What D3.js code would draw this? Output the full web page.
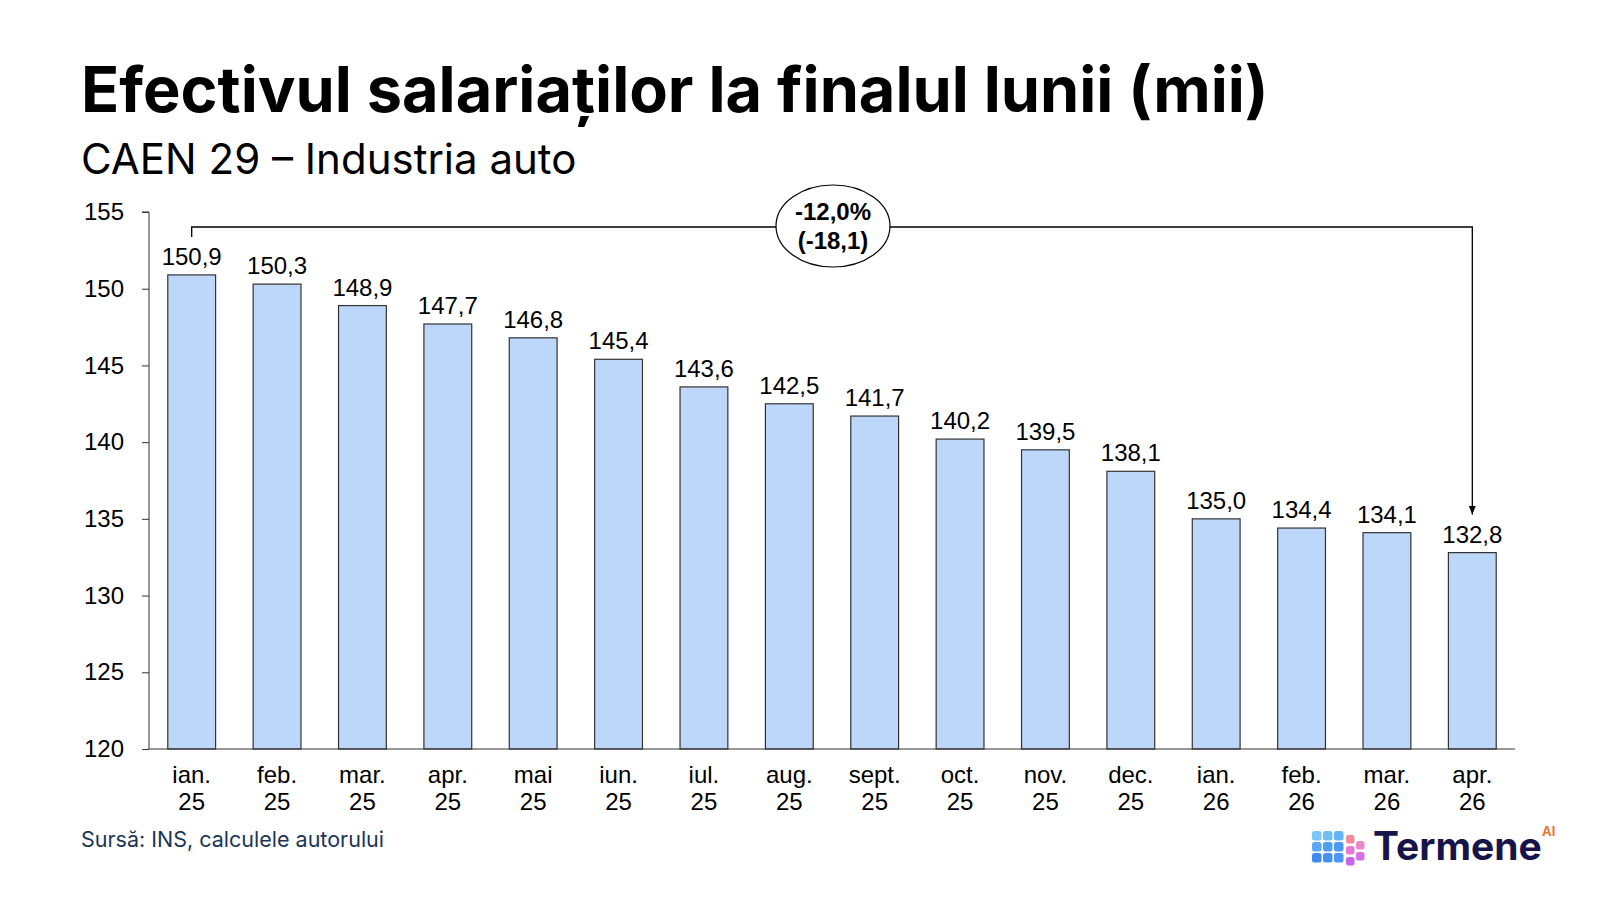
<!DOCTYPE html>
<meta charset="utf-8">
<script src="https://d3js.org/d3.v7.min.js"></script>
<style>
  body { margin: 0; background: #fff; }
  svg text { font-family: "Liberation Sans", Arial, sans-serif; }
  .title { font-family: Inter, "Noto Sans", sans-serif !important; font-weight: 700; }
  .subtitle, .source { font-family: Inter, "Noto Sans", sans-serif !important; }
</style>
<div id="wrapper"></div>
<script>
  // Data
  const months = ["ian.", "feb.", "mar.", "apr.", "mai", "iun.", "iul.", "aug.", "sept.", "oct.", "nov.", "dec.", "ian.", "feb.", "mar.", "apr."];
  const years = ["25", "25", "25", "25", "25", "25", "25", "25", "25", "25", "25", "25", "26", "26", "26", "26"];
  const values = [150.9, 150.3, 148.9, 147.7, 146.8, 145.4, 143.6, 142.5, 141.7, 140.2, 139.5, 138.1, 135.0, 134.4, 134.1, 132.8];
  const yTicks = [120, 125, 130, 135, 140, 145, 150, 155];

  const data = values.map((v, i) => ({ key: i, month: months[i], year: years[i], value: v }));
  const fmt = v => v.toFixed(1).replace(".", ",");

  const W = 1600, H = 900;
  const svg = d3.select("#wrapper").append("svg")
    .attr("width", W).attr("height", H);

  // Titles
  svg.append("text").attr("class", "title")
    .attr("x", 81).attr("y", 112)
    .style("font-size", "63px").style("fill", "#000")
    .text("Efectivul salariaților la finalul lunii (mii)");
  svg.append("text").attr("class", "subtitle")
    .attr("x", 81).attr("y", 174)
    .style("font-size", "42px").style("fill", "#000")
    .text("CAEN 29 – Industria auto");

  // Scales
  const x = d3.scaleBand()
    .domain(data.map(d => d.key))
    .range([149, 1515])
    .paddingInner(0.44)
    .paddingOuter(0.22);
  const y = d3.scaleLinear()
    .domain([120, 155])
    .range([749, 212]);

  // Y axis
  const yAxis = svg.append("g")
    .attr("transform", "translate(149,0)")
    .call(d3.axisLeft(y).tickValues(yTicks).tickSize(7).tickPadding(18).tickFormat(d3.format("d")));
  yAxis.select(".domain").attr("stroke", "#333").attr("d", `M-7,${y(155)}H0V${y(120)}`);
  yAxis.selectAll(".tick line").attr("stroke", "#333");
  yAxis.selectAll(".tick text").style("font-size", "24px").style("fill", "#000");

  // Bars
  svg.append("g").selectAll("rect")
    .data(data)
    .join("rect")
    .attr("x", d => x(d.key))
    .attr("y", d => y(d.value))
    .attr("width", x.bandwidth())
    .attr("height", d => y(120) - y(d.value))
    .attr("fill", "#bdd7fb")
    .attr("stroke", "#333")
    .attr("stroke-width", 1.2);

  // X axis
  svg.append("line")
    .attr("x1", 149).attr("x2", 1515)
    .attr("y1", y(120)).attr("y2", y(120))
    .attr("stroke", "#333").attr("stroke-width", 1.2);

  const xl = svg.append("g").selectAll("text")
    .data(data)
    .join("text")
    .attr("text-anchor", "middle")
    .style("font-size", "24px").style("fill", "#000");
  xl.append("tspan").attr("x", d => x(d.key) + x.bandwidth() / 2).attr("y", 783).text(d => d.month);
  xl.append("tspan").attr("x", d => x(d.key) + x.bandwidth() / 2).attr("y", 810).text(d => d.year);

  // Value labels
  svg.append("g").selectAll("text")
    .data(data)
    .join("text")
    .attr("x", d => x(d.key) + x.bandwidth() / 2)
    .attr("y", d => y(d.value) - 10)
    .attr("text-anchor", "middle")
    .style("font-size", "24px").style("fill", "#000")
    .text(d => fmt(d.value));

  // Change annotation
  const first = data[0], last = data[data.length - 1];
  const x0 = x(first.key) + x.bandwidth() / 2;
  const x1 = x(last.key) + x.bandwidth() / 2;
  const yBr = 227;
  const pct = (last.value / first.value - 1) * 100;
  const diff = last.value - first.value;

  svg.append("defs").append("marker")
    .attr("id", "arr").attr("viewBox", "0 0 10 8")
    .attr("refX", 10).attr("refY", 4)
    .attr("markerWidth", 9).attr("markerHeight", 10)
    .attr("markerUnits", "userSpaceOnUse")
    .attr("orient", "auto")
    .append("path").attr("d", "M0,0L10,4L0,8Z").attr("fill", "#000");

  svg.append("path")
    .attr("d", `M${x0},${yBr + 10}V${yBr}H${x1}V${y(last.value) - 38}`)
    .attr("fill", "none").attr("stroke", "#000").attr("stroke-width", 1.3)
    .attr("marker-end", "url(#arr)");

  const cx = 833, cy = 226;
  svg.append("ellipse")
    .attr("cx", cx).attr("cy", cy).attr("rx", 57).attr("ry", 41)
    .attr("fill", "#fff").attr("stroke", "#000").attr("stroke-width", 1.2);
  svg.append("text")
    .attr("x", cx).attr("y", cy - 6)
    .attr("text-anchor", "middle")
    .style("font-size", "24px").style("font-weight", "700")
    .text(fmt(pct) + "%");
  svg.append("text")
    .attr("x", cx).attr("y", cy + 23)
    .attr("text-anchor", "middle")
    .style("font-size", "24px").style("font-weight", "700")
    .text("(" + fmt(diff) + ")");

  // Source
  svg.append("text").attr("class", "source")
    .attr("x", 81).attr("y", 847)
    .style("font-size", "21.5px").style("fill", "#1c3557")
    .text("Sursă: INS, calculele autorului");

  // Logo
  const logo = svg.append("g").attr("transform", "translate(1312,829)");
  const blues = [
    ["#7cc6f7", "#6fbdf6", "#62b4f5"],
    ["#5aa8f4", "#4f9ff3", "#4a9af4"],
    ["#3f8af1", "#4690f2", "#4b97f3"]
  ];
  blues.forEach((row, r) => row.forEach((c, k) => {
    logo.append("rect")
      .attr("x", k * 11).attr("y", r * 11 + 2)
      .attr("width", 9.5).attr("height", 9.5).attr("rx", 2.5)
      .attr("fill", c);
  }));
  [["#f08a9e", 34, 6], ["#e57ad6", 34, 17], ["#c865ea", 34, 28], ["#e889c9", 44, 12], ["#d472e6", 44, 23]].forEach(([c, px, py]) => {
    logo.append("rect")
      .attr("x", px).attr("y", py)
      .attr("width", 8.5).attr("height", 8.5).attr("rx", 2.5)
      .attr("fill", c);
  });
  logo.append("text")
    .attr("x", 61).attr("y", 31)
    .style("font-family", "Inter, sans-serif").style("font-weight", "700")
    .style("font-size", "39px").style("fill", "#17144a")
    .text("Termene");
  logo.append("text")
    .attr("x", 230).attr("y", 7)
    .style("font-family", "Inter, sans-serif").style("font-weight", "700")
    .style("font-size", "13px").style("fill", "#e8763a")
    .text("AI");
</script>
